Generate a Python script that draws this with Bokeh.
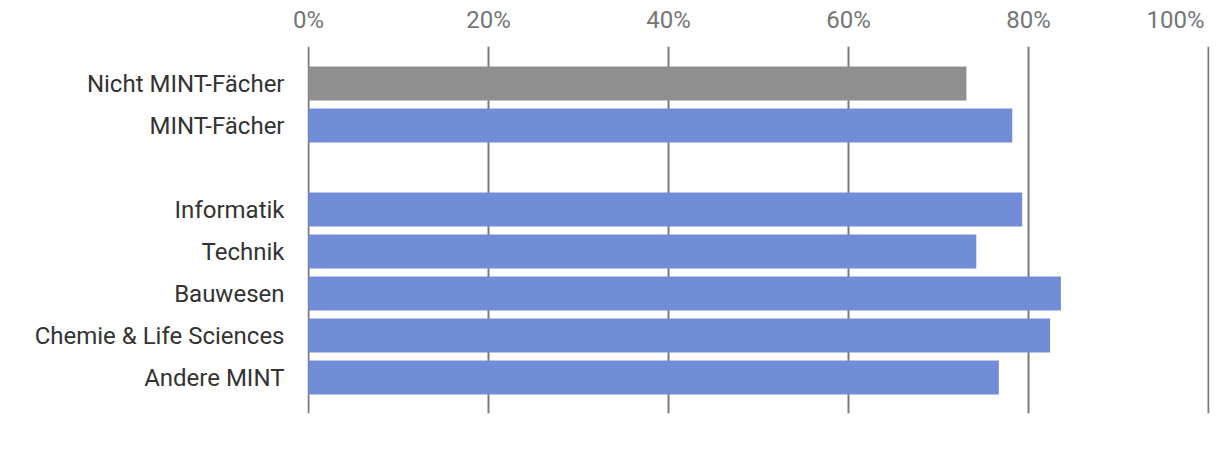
from bokeh.plotting import figure
from bokeh.models import Range1d, FixedTicker, ColumnDataSource
from bokeh.embed import file_html
from bokeh.resources import INLINE

categories = ["Nicht MINT-Fächer", "MINT-Fächer", "", "Informatik", "Technik",
              "Bauwesen", "Chemie & Life Sciences", "Andere MINT"]
values = [73.1, 78.2, None, 79.3, 74.2, 83.6, 82.4, 76.7]
colors = ["#8f8f8f", "#728dd7", None, "#728dd7", "#728dd7", "#728dd7", "#728dd7", "#728dd7"]
x_ticks = [0, 20, 40, 60, 80, 100]
x_tick_labels = ["0%", "20%", "40%", "60%", "80%", "100%"]

idx = [i for i, v in enumerate(values) if v is not None]
src = ColumnDataSource(dict(
    y=idx,
    right=[values[i] for i in idx],
    color=[colors[i] for i in idx],
    name=[categories[i] for i in idx],
))

FONT = "Roboto"

p = figure(width=1210, height=448, output_backend="svg", toolbar_location=None,
           x_axis_location="above",
           x_range=Range1d(-1 / 9, 100 + 1 / 9),
           y_range=Range1d(7.857, -0.881),
           min_border_left=307, min_border_right=1, min_border_top=46, min_border_bottom=35)
p.outline_line_color = None
p.background_fill_color = "white"
p.border_fill_color = "white"

p.hbar(y="y", right="right", left=0, height=0.81, color="color", line_color=None, source=src)

# grid
p.xgrid.ticker = FixedTicker(ticks=x_ticks)
p.xgrid.grid_line_color = "#7a7a7a"
p.xgrid.grid_line_width = 2
p.ygrid.grid_line_color = None

# x axis (top); the last label is kept inside the canvas by Bokeh
labels = {t: l for t, l in zip(x_ticks, x_tick_labels)}
labels[x_ticks[-1]] = x_tick_labels[-1] + "\u00a0"
xa = p.xaxis[0]
xa.ticker = FixedTicker(ticks=x_ticks)
xa.major_label_overrides = labels
xa.axis_line_color = None
xa.major_tick_line_color = None
xa.minor_tick_line_color = None
xa.major_tick_out = 0
xa.major_tick_in = 0
xa.major_label_standoff = 13
xa.major_label_text_font = FONT
xa.major_label_text_font_size = "24px"
xa.major_label_text_color = "#757575"

# y axis
ya = p.yaxis[0]
ya.ticker = FixedTicker(ticks=idx)
ya.major_label_overrides = {i: categories[i] for i in idx}
ya.axis_line_color = None
ya.major_tick_line_color = None
ya.minor_tick_line_color = None
ya.major_tick_out = 0
ya.major_tick_in = 0
ya.major_label_standoff = 23
ya.major_label_text_font = FONT
ya.major_label_text_font_size = "24px"
ya.major_label_text_color = "#333333"

open("out.html", "w").write(file_html(p, INLINE))
